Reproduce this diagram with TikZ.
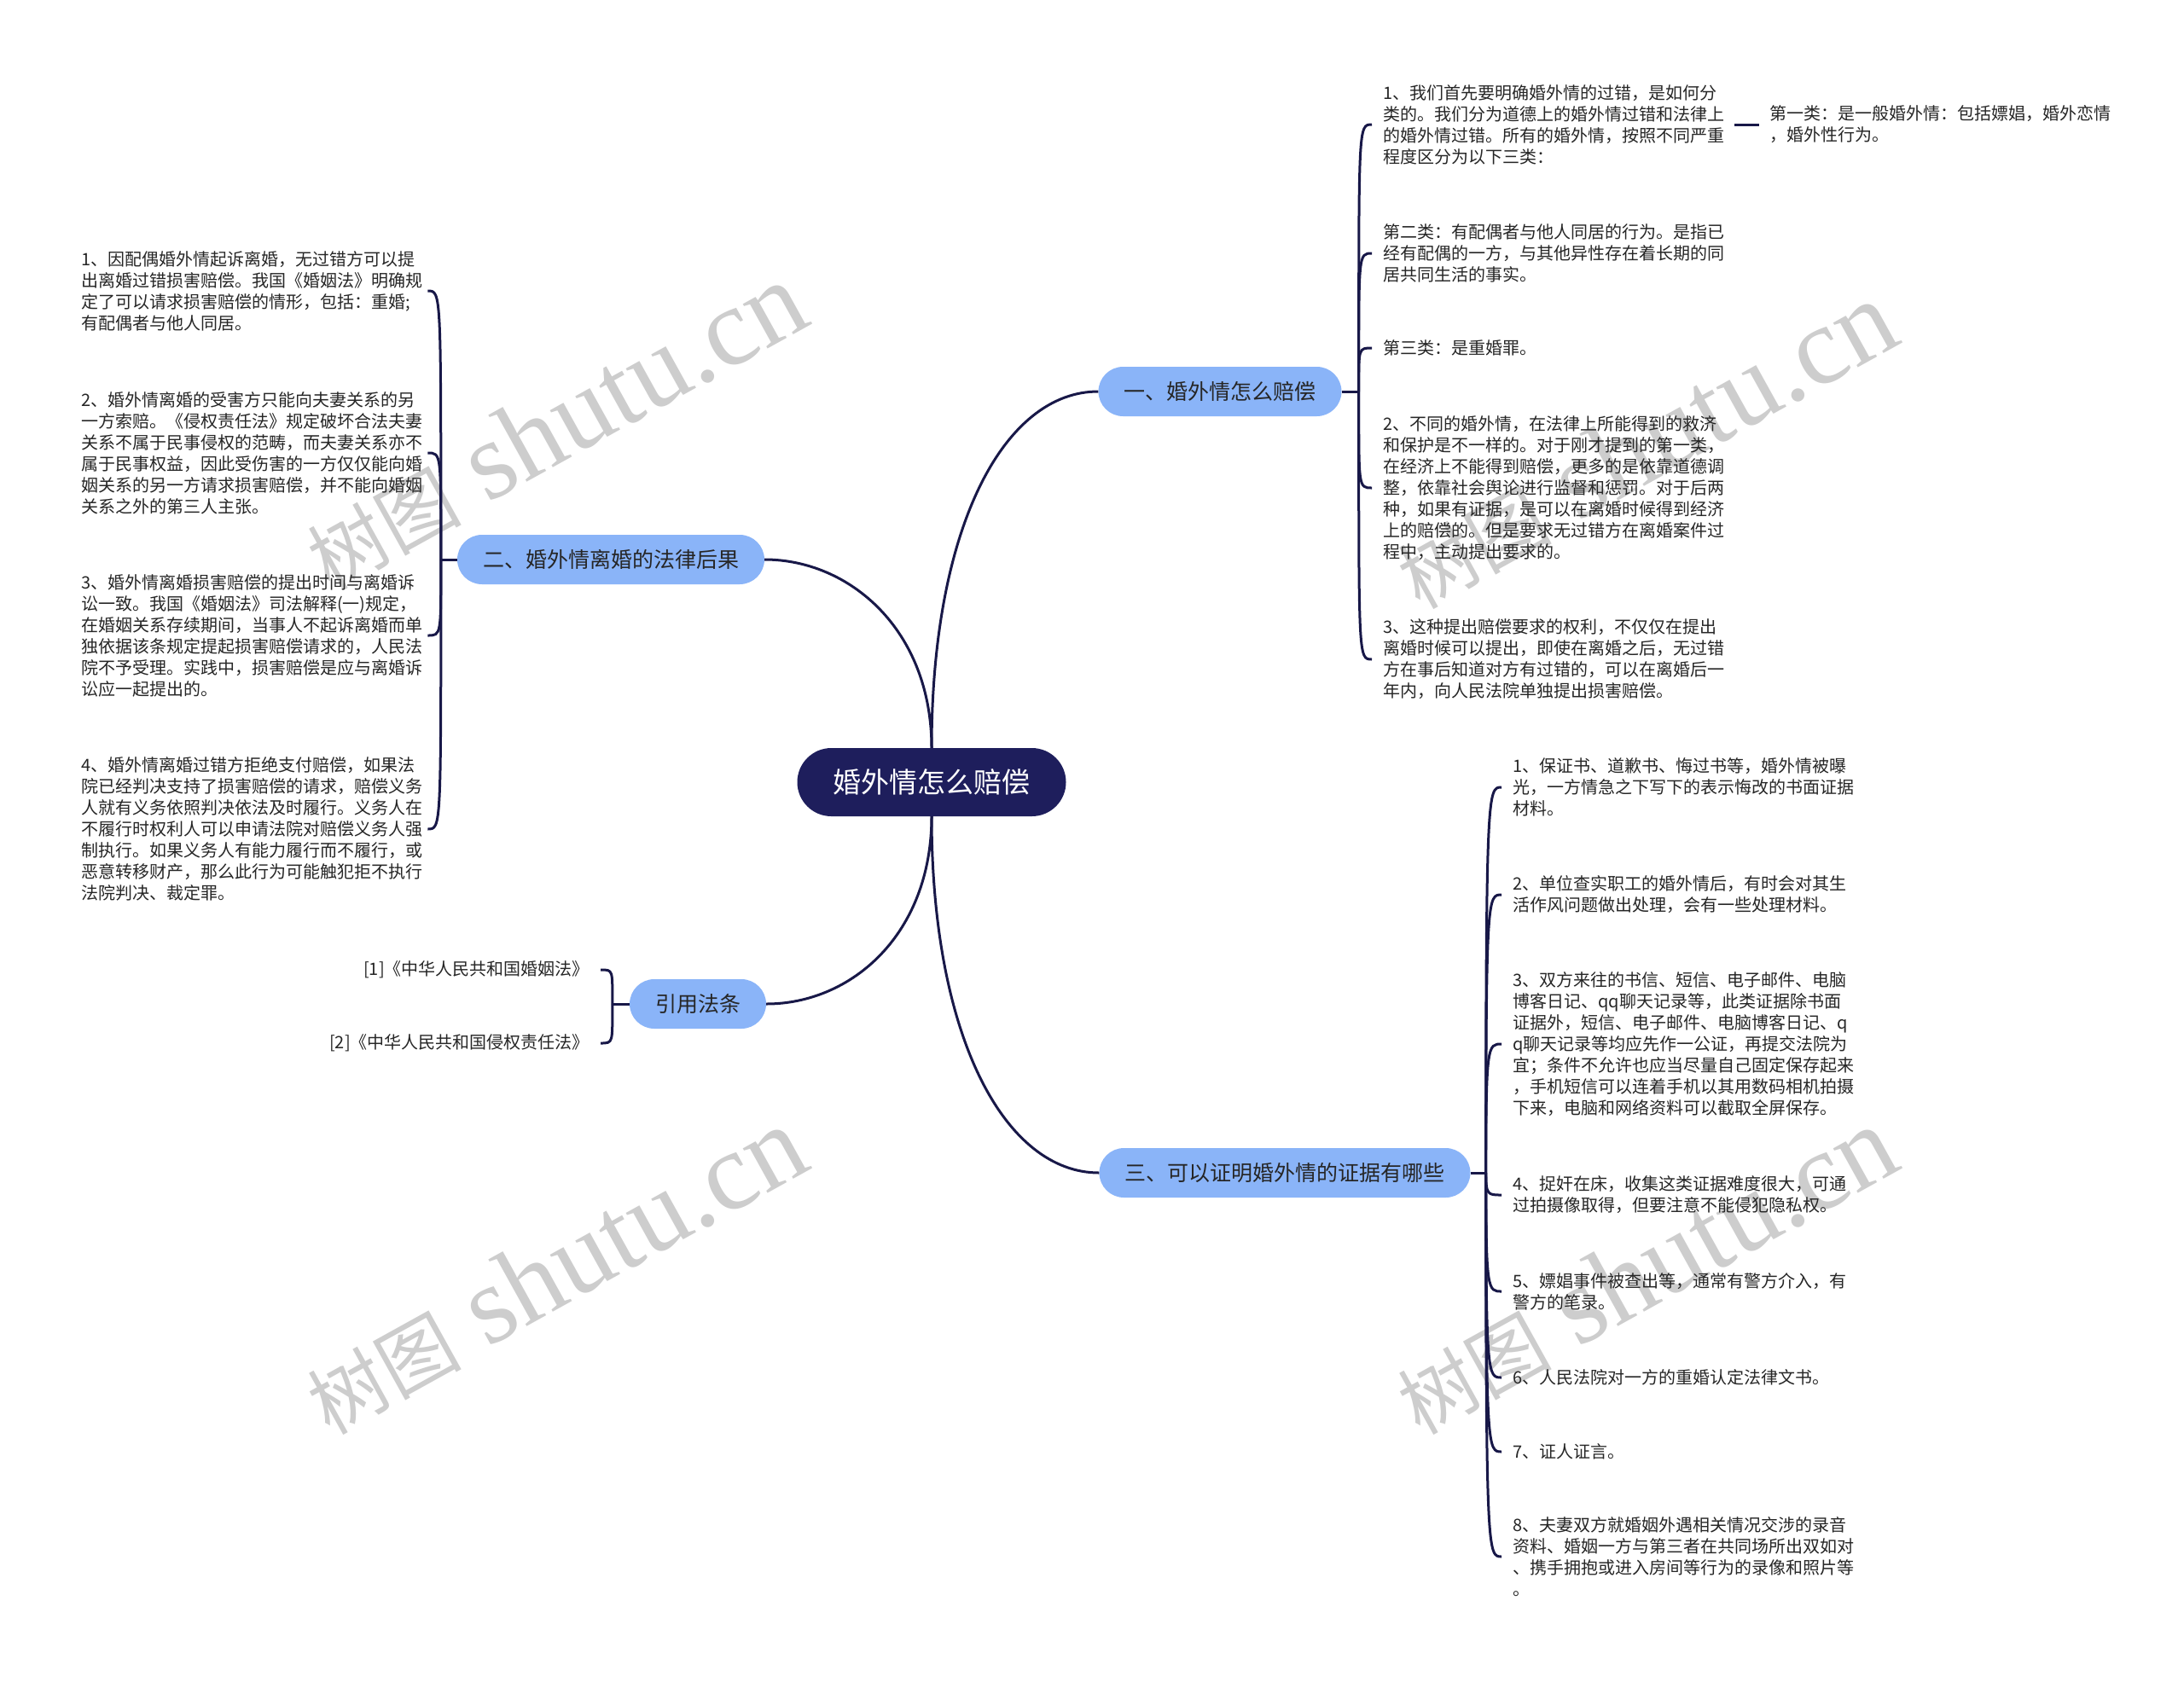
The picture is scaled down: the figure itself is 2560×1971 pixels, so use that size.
\documentclass[tikz,border=0pt]{standalone}
\usepackage{fontspec}
\setmainfont{Noto Sans CJK SC}
\newfontfamily\wmserif{Liberation Serif}
\usetikzlibrary{calc}
\definecolor{edgec}{RGB}{24,24,72}
\definecolor{rootc}{RGB}{30,30,92}
\definecolor{branchc}{RGB}{138,180,248}
\definecolor{textc}{RGB}{38,38,38}
\definecolor{wmc}{RGB}{205,205,205}
\newcommand{\wmtext}{{\fontsize{90}{90}\selectfont 树图}\hspace{32pt}{\wmserif\fontsize{130}{130}\selectfont shutu.cn}}
\begin{document}
\begin{tikzpicture}[x=1pt,y=-1pt,
  edge/.style={draw=edgec, line width=3pt},
  rootnode/.style={fill=rootc, rounded corners=40pt, minimum height=80pt, minimum width=315pt, text=white, font=\fontsize{33}{40}\selectfont, inner xsep=42pt, inner ysep=0pt},
  branch/.style={fill=branchc, rounded corners=29pt, minimum height=58pt, inner xsep=30pt, inner ysep=0pt, text=textc, font=\fontsize{25}{30}\selectfont},
  leaf/.style={align=left, inner sep=0pt, text=textc, font=\fontsize{20}{25}\selectfont},
  wm/.style={text=wmc, rotate=29, inner sep=0pt}
]
\fill[white] (0,0) rectangle (2560,1971);
\useasboundingbox (0,0) rectangle (2560,1971);

% watermarks
\node[wm] (wm1) at (650,500) {\wmtext};
\node[wm] (wm2) at (650,1490) {\wmtext};
\node[wm] (wm3) at (1928,522) {\wmtext};
\node[wm] (wm4) at (1928,1490) {\wmtext};

% root and branches
\node[rootnode] (root) at (1092,917) {婚外情怎么赔偿};
\node[branch] (b1) at (1430,459) {一、婚外情怎么赔偿};
\node[branch] (b2) at (716,656) {二、婚外情离婚的法律后果};
\node[branch] (b3) at (1506,1375) {三、可以证明婚外情的证据有哪些};
\node[branch] (b4) at (818,1177) {引用法条};

\draw[edge] (root.north) .. controls +(0,-260) and +(-110,0) .. (b1.west);
\draw[edge] (root.north) .. controls +(0,-138) and +(100,0) .. (b2.east);
\draw[edge] (root.south) .. controls +(0,260) and +(-110,0) .. (b3.west);
\draw[edge] (root.south) .. controls +(0,138) and +(100,0) .. (b4.east);

% hubs
\coordinate (h1) at ($(b1.east)+(20,0)$);
\coordinate (h2) at ($(b2.west)+(-19,0)$);
\coordinate (h3) at ($(b3.east)+(18,0)$);
\coordinate (h4) at ($(b4.west)+(-20,0)$);
\draw[edge] (b1.east) -- (h1);
\draw[edge] (b2.west) -- (h2);
\draw[edge] (b3.east) -- (h3);
\draw[edge] (b4.west) -- (h4);

% branch 1 leaves
\node[leaf, anchor=west] (l1a) at (1621,146) {1、我们首先要明确婚外情的过错，是如何分\\类的。我们分为道德上的婚外情过错和法律上\\的婚外情过错。所有的婚外情，按照不同严重\\程度区分为以下三类：};
\node[leaf, anchor=west] (l1s) at (2074,146) {第一类：是一般婚外情：包括嫖娼，婚外恋情\\，婚外性行为。};
\node[leaf, anchor=west] (l1b) at (1621,297) {第二类：有配偶者与他人同居的行为。是指已\\经有配偶的一方，与其他异性存在着长期的同\\居共同生活的事实。};
\node[leaf, anchor=west] (l1c) at (1621,408) {第三类：是重婚罪。};
\node[leaf, anchor=west] (l1d) at (1621,572) {2、不同的婚外情，在法律上所能得到的救济\\和保护是不一样的。对于刚才提到的第一类，\\在经济上不能得到赔偿，更多的是依靠道德调\\整，依靠社会舆论进行监督和惩罚。对于后两\\种，如果有证据，是可以在离婚时候得到经济\\上的赔偿的。但是要求无过错方在离婚案件过\\程中，主动提出要求的。};
\node[leaf, anchor=west] (l1e) at (1621,773) {3、这种提出赔偿要求的权利，不仅仅在提出\\离婚时候可以提出，即使在离婚之后，无过错\\方在事后知道对方有过错的，可以在离婚后一\\年内，向人民法院单独提出损害赔偿。};

\foreach \n in {l1a,l1b,l1c,l1d,l1e}
  \draw[edge] (h1) .. controls (h1 |- \n.west) and ($(\n.west)+(-29,0)$) .. ($(\n.west)+(-13,0)$);
\draw[edge] ($(l1a.east)+(12,0)$) -- ($(l1s.west)+(-12,0)$);

% branch 2 leaves
\node[leaf, anchor=west] (l2a) at (95,341) {1、因配偶婚外情起诉离婚，无过错方可以提\\出离婚过错损害赔偿。我国《婚姻法》明确规\\定了可以请求损害赔偿的情形，包括：重婚;\\有配偶者与他人同居。};
\node[leaf, anchor=west] (l2b) at (95,531) {2、婚外情离婚的受害方只能向夫妻关系的另\\一方索赔。《侵权责任法》规定破坏合法夫妻\\关系不属于民事侵权的范畴，而夫妻关系亦不\\属于民事权益，因此受伤害的一方仅仅能向婚\\姻关系的另一方请求损害赔偿，并不能向婚姻\\关系之外的第三人主张。};
\node[leaf, anchor=west] (l2c) at (95,745) {3、婚外情离婚损害赔偿的提出时间与离婚诉\\讼一致。我国《婚姻法》司法解释(一)规定，\\在婚姻关系存续期间，当事人不起诉离婚而单\\独依据该条规定提起损害赔偿请求的，人民法\\院不予受理。实践中，损害赔偿是应与离婚诉\\讼应一起提出的。};
\node[leaf, anchor=west] (l2d) at (95,972) {4、婚外情离婚过错方拒绝支付赔偿，如果法\\院已经判决支持了损害赔偿的请求，赔偿义务\\人就有义务依照判决依法及时履行。义务人在\\不履行时权利人可以申请法院对赔偿义务人强\\制执行。如果义务人有能力履行而不履行，或\\恶意转移财产，那么此行为可能触犯拒不执行\\法院判决、裁定罪。};

\foreach \n in {l2a,l2b,l2c,l2d}
  \draw[edge] (h2) .. controls (h2 |- \n.east) and ($(\n.east)+(22,0)$) .. ($(\n.east)+(6,0)$);

% branch 4 leaves
\node[leaf, anchor=east] (l4a) at (691,1137) {[1]《中华人民共和国婚姻法》};
\node[leaf, anchor=east] (l4b) at (691,1223) {[2]《中华人民共和国侵权责任法》};
\foreach \n in {l4a,l4b}
  \draw[edge] (h4) .. controls (h4 |- \n.east) and ($(\n.east)+(28,0)$) .. ($(\n.east)+(13,0)$);

% branch 3 leaves
\node[leaf, anchor=west] (l3a) at (1773,923) {1、保证书、道歉书、悔过书等，婚外情被曝\\光，一方情急之下写下的表示悔改的书面证据\\材料。};
\node[leaf, anchor=west] (l3b) at (1773,1049) {2、单位查实职工的婚外情后，有时会对其生\\活作风问题做出处理，会有一些处理材料。};
\node[leaf, anchor=west] (l3c) at (1773,1224) {3、双方来往的书信、短信、电子邮件、电脑\\博客日记、qq聊天记录等，此类证据除书面\\证据外，短信、电子邮件、电脑博客日记、q\\q聊天记录等均应先作一公证，再提交法院为\\宜；条件不允许也应当尽量自己固定保存起来\\，手机短信可以连着手机以其用数码相机拍摄\\下来，电脑和网络资料可以截取全屏保存。};
\node[leaf, anchor=west] (l3d) at (1773,1401) {4、捉奸在床，收集这类证据难度很大，可通\\过拍摄像取得，但要注意不能侵犯隐私权。};
\node[leaf, anchor=west] (l3e) at (1773,1514) {5、嫖娼事件被查出等，通常有警方介入，有\\警方的笔录。};
\node[leaf, anchor=west] (l3f) at (1773,1615) {6、人民法院对一方的重婚认定法律文书。};
\node[leaf, anchor=west] (l3g) at (1773,1702) {7、证人证言。};
\node[leaf, anchor=west] (l3h) at (1773,1825) {8、夫妻双方就婚姻外遇相关情况交涉的录音\\资料、婚姻一方与第三者在共同场所出双如对\\、携手拥抱或进入房间等行为的录像和照片等\\。};

\foreach \n in {l3a,l3b,l3c,l3d,l3e,l3f,l3g,l3h}
  \draw[edge] (h3) .. controls (h3 |- \n.west) and ($(\n.west)+(-29,0)$) .. ($(\n.west)+(-13,0)$);
\end{tikzpicture}
\end{document}
